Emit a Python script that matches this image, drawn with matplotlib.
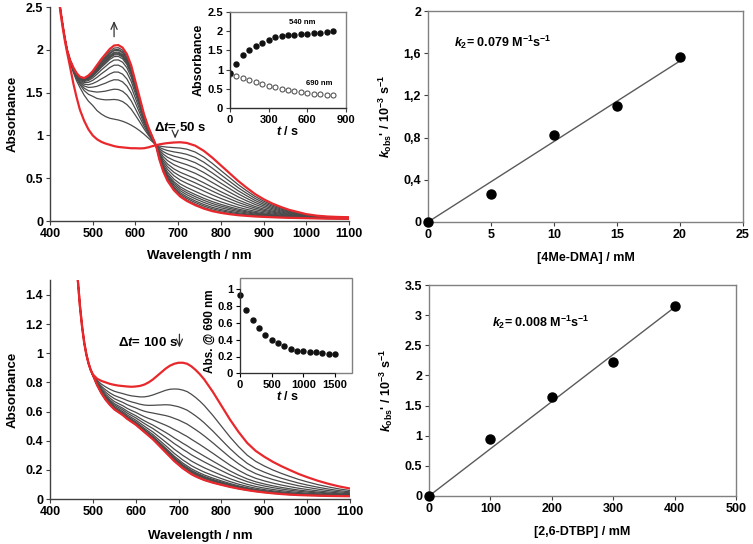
import numpy as np
import matplotlib
matplotlib.use("Agg")
import matplotlib.pyplot as plt
from matplotlib.patches import Rectangle

plt.rcParams['font.family'] = ['Liberation Sans', 'DejaVu Sans']
plt.rcParams['font.weight'] = 'bold'
plt.rcParams['axes.labelweight'] = 'bold'
plt.rcParams['mathtext.fontset'] = 'custom'
plt.rcParams['mathtext.rm'] = 'Liberation Sans:bold'
plt.rcParams['mathtext.it'] = 'Liberation Sans:italic:bold'
plt.rcParams['mathtext.bf'] = 'Liberation Sans:bold'
plt.rcParams['axes.unicode_minus'] = True

# ---------------- data: top-left spectra ----------------
wl_top = [420, 425, 430, 435, 440, 447, 455, 462, 470, 480, 490, 500, 510, 520, 530,
          540, 550, 560, 570, 580, 590, 600, 610, 620, 630, 640, 648,
          656, 665, 675, 690, 705, 720, 740, 760, 780, 800, 820, 840, 860, 880,
          900, 920, 940, 960, 980, 1000, 1025, 1050, 1075, 1100]
abs_top_initial = [2.62, 2.42, 2.25, 2.10, 1.97, 1.80, 1.60, 1.45, 1.30, 1.17, 1.07, 1.00,
                   0.955, 0.925, 0.905, 0.89, 0.875, 0.865, 0.86, 0.855, 0.85, 0.85, 0.848,
                   0.85, 0.86, 0.875, 0.885, 0.895, 0.903, 0.91, 0.917, 0.92, 0.912, 0.88,
                   0.82, 0.74, 0.65, 0.56, 0.47, 0.39, 0.315, 0.255, 0.205, 0.165, 0.13,
                   0.105, 0.08, 0.062, 0.052, 0.047, 0.044]
abs_top_final = [2.62, 2.45, 2.28, 2.13, 2.00, 1.88, 1.79, 1.73, 1.685, 1.67, 1.70, 1.75,
                 1.82, 1.89, 1.95, 2.01, 2.05, 2.055, 2.025, 1.95, 1.82, 1.63, 1.44, 1.25,
                 1.10, 0.98, 0.885, 0.72, 0.58, 0.47, 0.36, 0.285, 0.235, 0.185, 0.145,
                 0.115, 0.095, 0.08, 0.068, 0.06, 0.053, 0.048, 0.044, 0.04, 0.037, 0.035,
                 0.033, 0.03, 0.028, 0.027, 0.026]
# first grey trace (t = 50 s) below the isosbestic point (up to 648 nm)
abs_top_first = [2.62, 2.44, 2.27, 2.12, 1.99, 1.85, 1.73, 1.64, 1.56, 1.47, 1.40, 1.35,
                 1.29, 1.25, 1.22, 1.20, 1.19, 1.18, 1.165, 1.145, 1.12, 1.09, 1.055,
                 1.015, 0.97, 0.925, 0.885]

# inset kinetics (top)
t_top = [0, 50, 100, 150, 200, 250, 300, 350, 400, 450, 500, 550, 600, 650, 700, 750, 800]
abs540 = [0.92, 1.15, 1.38, 1.50, 1.61, 1.70, 1.78, 1.84, 1.88, 1.90, 1.91, 1.92, 1.93,
          1.95, 1.96, 1.98, 2.01]
abs690 = [0.89, 0.83, 0.78, 0.73, 0.68, 0.63, 0.58, 0.54, 0.50, 0.46, 0.43, 0.41, 0.39,
          0.37, 0.355, 0.34, 0.33]

# ---------------- data: bottom-left spectra ----------------
wl_bot = [460, 465, 470, 475, 480, 485, 490, 495, 500, 505, 510, 520, 530, 540, 550, 560,
          570, 580, 590, 600, 610, 620, 630, 640, 650, 660, 670, 680, 690, 700, 710, 720,
          730, 740, 750, 760, 780, 800, 820, 840, 860, 880, 900, 920, 940, 960, 980, 1000,
          1025, 1050, 1075, 1100]
abs_bot_initial = [1.75, 1.50, 1.32, 1.18, 1.07, 0.99, 0.93, 0.885, 0.855, 0.84, 0.825,
                   0.81, 0.80, 0.79, 0.783, 0.778, 0.775, 0.772, 0.77, 0.772, 0.776, 0.785,
                   0.80, 0.82, 0.845, 0.87, 0.895, 0.915, 0.928, 0.935, 0.935, 0.928, 0.91,
                   0.885, 0.855, 0.82, 0.735, 0.64, 0.545, 0.46, 0.385, 0.33, 0.29, 0.255,
                   0.225, 0.198, 0.172, 0.15, 0.125, 0.104, 0.086, 0.072]
abs_bot_final = [1.75, 1.50, 1.32, 1.18, 1.07, 0.99, 0.93, 0.885, 0.85, 0.815, 0.78, 0.725,
                 0.68, 0.645, 0.615, 0.595, 0.575, 0.55, 0.53, 0.51, 0.485, 0.46, 0.435,
                 0.41, 0.38, 0.35, 0.32, 0.29, 0.26, 0.235, 0.21, 0.19, 0.17, 0.155, 0.142,
                 0.13, 0.112, 0.097, 0.083, 0.071, 0.061, 0.052, 0.045, 0.039, 0.034, 0.03,
                 0.027, 0.025, 0.023, 0.021, 0.02, 0.019]
t_bot = [0, 100, 200, 300, 400, 500, 600, 700, 800, 900, 1000, 1100, 1200, 1300, 1400, 1500]
abs690_bot = [0.93, 0.75, 0.63, 0.54, 0.46, 0.40, 0.36, 0.32, 0.29, 0.27, 0.26, 0.255,
              0.25, 0.245, 0.235, 0.235]

# ---------------- data: right panels ----------------
conc_dma = [0, 5, 10, 15, 20]
kobs_dma = [0.0, 0.27, 0.82, 1.10, 1.56]
conc_dtbp = [0, 100, 200, 300, 400]
kobs_dtbp = [0.0, 0.94, 1.64, 2.22, 3.15]

RED = '#e8282c'
GREY = '#4a4a4a'
FRAME = '#808080'
ARW = dict(arrowstyle='->,head_length=0.5,head_width=0.22', color='#333333', lw=0.9)
TFS = 9      # main tick label size
IFS = 8      # inset tick label size

W, H = 753, 544
fig = plt.figure(figsize=(W / 100, H / 100), dpi=100)


def ax_px(left, top, right, bottom):
    return fig.add_axes([left / W, 1 - bottom / H, (right - left) / W, (bottom - top) / H])


def style_lr(ax, fs=TFS):
    for s in ['top', 'right']:
        ax.spines[s].set_visible(False)
    for s in ['left', 'bottom']:
        ax.spines[s].set_color('#404040')
        ax.spines[s].set_linewidth(1.0)
    ax.tick_params(direction='out', length=3, width=0.8, labelsize=fs, pad=2, color='#404040')


def style_box(ax, fs=TFS):
    for s in ax.spines.values():
        s.set_color(FRAME)
        s.set_linewidth(1.0)
    ax.tick_params(direction='out', length=3, width=0.8, labelsize=fs, pad=2, color='#404040')


def set_ticks(ax, xt, yt, xl=None, yl=None):
    xl = xl if xl is not None else [str(v) for v in xt]
    yl = yl if yl is not None else [str(v) for v in yt]
    ax.set_xticks(xt, labels=xl, fontweight='bold')
    ax.set_yticks(yt, labels=yl, fontweight='bold')


# ============ top-left ============
ax1 = ax_px(50, 7, 349, 221)
style_lr(ax1)
wl = np.array(wl_top)
A0 = np.array(abs_top_initial)
Af = np.array(abs_top_final)
n1 = len(abs_top_first)
G1 = np.array(abs_top_first)
v5 = np.array(abs540)
v6 = np.array(abs690)
for i in range(1, len(t_top) - 1):
    g = (v5[i] - v5[1]) / (v5[-1] - v5[1])
    h = (v6[0] - v6[i]) / (v6[0] - v6[-1])
    left_part = G1 + g * (Af[:n1] - G1)
    right_part = A0[n1:] + h * (Af[n1:] - A0[n1:])
    ax1.plot(wl, np.concatenate([left_part, right_part]), color=GREY, lw=0.9)
ax1.plot(wl, A0, color=RED, lw=1.6)
ax1.plot(wl, Af, color=RED, lw=1.6)
ax1.set_xlim(400, 1100)
ax1.set_ylim(0, 2.5)
set_ticks(ax1, list(range(400, 1101, 100)), [0, 0.5, 1, 1.5, 2, 2.5],
          yl=['0', '0.5', '1', '1.5', '2', '2.5'])
ax1.set_xlabel('Wavelength / nm', fontsize=9.5, labelpad=7)
ax1.set_ylabel('Absorbance', fontsize=9.5, labelpad=5)
ax1.annotate('', xy=(550, 2.37), xytext=(550, 2.12), arrowprops=ARW)
ax1.text(704, 1.095, r'Δ$t$= 50 s', ha='center', va='center', fontsize=9.5)
ax1.annotate('', xy=(693, 0.93), xytext=(693, 1.04), arrowprops=ARW)

# inset top
in1 = ax_px(230, 12, 346, 108)
style_box(in1, fs=IFS)
for s in ['left', 'bottom']:
    in1.spines[s].set_color('#303030')
in1.plot(t_top, abs690, 'o', ms=3.6, mfc='white', mec='#555555', mew=0.8, ls='none')
in1.plot(t_top, abs540, 'o', ms=3.6, color='#111111', ls='none')
in1.set_xlim(0, 900)
in1.set_ylim(0, 2.5)
set_ticks(in1, [0, 300, 600, 900], [0, 0.5, 1, 1.5, 2, 2.5],
          yl=['0', '0.5', '1', '1.5', '2', '2.5'])
in1.set_xlabel(r'$t$ / s', fontsize=9, labelpad=0)
in1.set_ylabel('Absorbance', fontsize=9, labelpad=2)
in1.text(560, 2.22, '540 nm', fontsize=5.5, ha='center', va='center')
in1.text(690, 0.64, '690 nm', fontsize=5.5, ha='center', va='center')

# ============ top-right ============
ax2 = ax_px(428, 11, 743, 222)
style_box(ax2)
cd = np.array(conc_dma, float)
kd = np.array(kobs_dma)
slope1 = np.sum(cd * kd) / np.sum(cd * cd)
ax2.plot([cd[0], cd[-1]], [slope1 * cd[0], slope1 * cd[-1]], color='#5a5a5a', lw=1.0)
ax2.plot(cd, kd, 'o', color='black', ms=6.5, ls='none', clip_on=False, zorder=3)
ax2.set_xlim(0, 25)
ax2.set_ylim(0, 2)
set_ticks(ax2, [0, 5, 10, 15, 20, 25], [0, 0.4, 0.8, 1.2, 1.6, 2.0],
          yl=['0', '0,4', '0,8', '1,2', '1,6', '2'])
ax2.set_xlabel('[4Me-DMA] / mM', fontsize=9, labelpad=8)
ax2.set_ylabel(r"$k_{\rm obs}$' / 10$^{-3}$ s$^{-1}$", fontsize=9, labelpad=7)
ax2.text(2.1, 1.70, r'$k_2$= 0.079 M$^{-1}$s$^{-1}$', fontsize=9, ha='left', va='center')

# ============ bottom-left ============
ax3 = ax_px(50, 280.4, 350, 499)
style_lr(ax3)
wb = np.array(wl_bot)
B0 = np.array(abs_bot_initial)
Bf = np.array(abs_bot_final)
vb = np.array(abs690_bot)
for i in range(1, len(t_bot) - 1):
    h = (vb[0] - vb[i]) / (vb[0] - vb[-1])
    ax3.plot(wb, B0 + h * (Bf - B0), color=GREY, lw=0.9)
ax3.plot(wb, B0, color=RED, lw=1.6)
ax3.plot(wb, Bf, color=RED, lw=1.6)
ax3.set_xlim(400, 1100)
ax3.set_ylim(0, 1.5)
set_ticks(ax3, list(range(400, 1101, 100)), [0, 0.2, 0.4, 0.6, 0.8, 1.0, 1.2, 1.4],
          yl=['0', '0.2', '0.4', '0.6', '0.8', '1', '1.2', '1.4'])
ax3.set_xlabel('Wavelength / nm', fontsize=9.5, labelpad=9)
ax3.set_ylabel('Absorbance', fontsize=9.5, labelpad=5)
ax3.text(628, 1.075, r'Δ$t$= 100 s', ha='center', va='center', fontsize=9.5)
ax3.annotate('', xy=(702, 1.02), xytext=(702, 1.15), arrowprops=ARW)

# inset bottom
in2 = ax_px(240, 289.3, 335, 373.3)
for s in ['top', 'right']:
    in2.spines[s].set_visible(False)
for s in ['left', 'bottom']:
    in2.spines[s].set_color('#303030')
in2.tick_params(direction='out', length=3, width=0.8, labelsize=IFS, pad=2)
in2.add_patch(Rectangle((0, 0), 1.175, 1.13, transform=in2.transAxes, fill=False,
                        ec=FRAME, lw=1.0, clip_on=False))
in2.plot(t_bot, abs690_bot, 'o', ms=3.6, color='#111111', ls='none', clip_on=False)
in2.set_xlim(0, 1500)
in2.set_ylim(0, 1)
set_ticks(in2, [0, 500, 1000, 1500], [0, 0.2, 0.4, 0.6, 0.8, 1.0],
          yl=['0', '0.2', '0.4', '0.6', '0.8', '1'])
in2.set_xlabel(r'$t$ / s', fontsize=9, labelpad=0)
in2.set_ylabel('Abs. @ 690 nm', fontsize=8.5, labelpad=1)

# ============ bottom-right ============
ax4 = ax_px(429, 285, 736, 496)
style_box(ax4)
cb = np.array(conc_dtbp, float)
kb = np.array(kobs_dtbp)
slope2 = np.sum(cb * kb) / np.sum(cb * cb)
ax4.plot([cb[0], cb[-1]], [slope2 * cb[0], slope2 * cb[-1]], color='#5a5a5a', lw=1.0)
ax4.plot(cb, kb, 'o', color='black', ms=6.5, ls='none', clip_on=False, zorder=3)
ax4.set_xlim(0, 500)
ax4.set_ylim(0, 3.5)
set_ticks(ax4, [0, 100, 200, 300, 400, 500], [0, 0.5, 1, 1.5, 2, 2.5, 3, 3.5],
          yl=['0', '0.5', '1', '1.5', '2', '2.5', '3', '3.5'])
ax4.set_xlabel('[2,6-DTBP] / mM', fontsize=9, labelpad=8)
ax4.set_ylabel(r"$k_{\rm obs}$' / 10$^{-3}$ s$^{-1}$", fontsize=9, labelpad=7)
ax4.text(102, 2.88, r'$k_2$= 0.008 M$^{-1}$s$^{-1}$', fontsize=9, ha='left', va='center')

fig.savefig('out.png', dpi=100)
